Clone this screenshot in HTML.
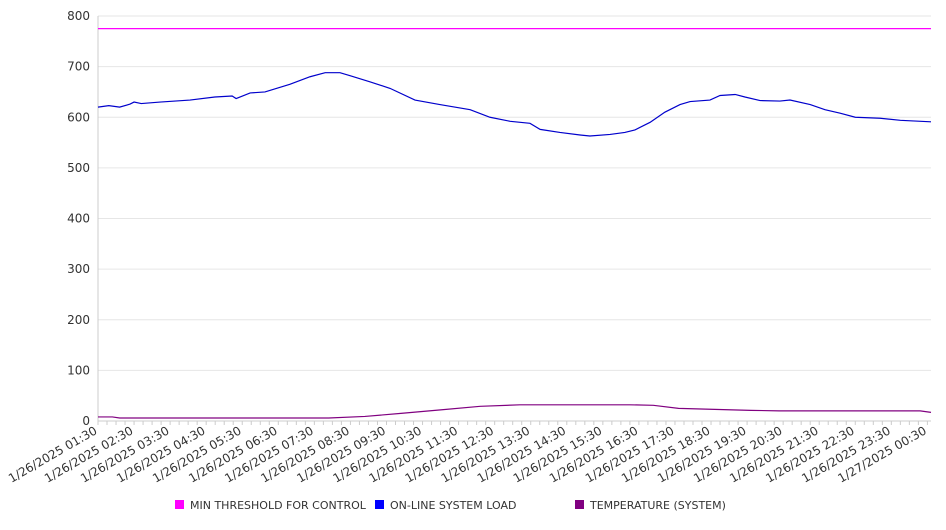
<!DOCTYPE html>
<html><head><meta charset="utf-8"><style>
body{margin:0;background:#fff;font-family:"DejaVu Sans","Liberation Sans",sans-serif;}
svg text{font-family:"DejaVu Sans","Liberation Sans",sans-serif;}
</style></head><body>
<svg id="chart" width="946" height="526" xmlns="http://www.w3.org/2000/svg"></svg>
<script>
const yTicks=[0,100,200,300,400,500,600,700,800];
const xLabels=["1/26/2025 01:30","1/26/2025 02:30","1/26/2025 03:30","1/26/2025 04:30","1/26/2025 05:30","1/26/2025 06:30","1/26/2025 07:30","1/26/2025 08:30","1/26/2025 09:30","1/26/2025 10:30","1/26/2025 11:30","1/26/2025 12:30","1/26/2025 13:30","1/26/2025 14:30","1/26/2025 15:30","1/26/2025 16:30","1/26/2025 17:30","1/26/2025 18:30","1/26/2025 19:30","1/26/2025 20:30","1/26/2025 21:30","1/26/2025 22:30","1/26/2025 23:30","1/27/2025 00:30"];
const thresholdHours=[0,23.1];
const thresholdValues=[775,775];
const loadHours=[0,0.3,0.6,0.89,1.0,1.2,1.72,2.55,3.24,3.72,3.83,4.22,4.63,5.32,5.88,6.30,6.71,6.99,7.54,8.10,8.79,9.48,10.32,10.87,11.43,11.98,12.26,12.81,13.37,13.64,14.20,14.61,14.89,15.31,15.72,16.14,16.42,16.97,17.25,17.67,17.94,18.36,18.91,19.19,19.75,20.16,20.58,21.00,21.69,22.25,23.1];
const loadValues=[620,623,620,626,630,627,630,634,640,642,637,648,650,665,680,688,688,682,670,657,634,625,615,600,592,588,576,570,565,563,566,570,575,590,610,625,631,634,643,645,640,633,632,634,625,615,608,600,598,594,591];
const tempHours=[0,0.4,0.6,6.4,7.4,8.4,9.5,10.6,11.7,14.75,15.4,16.1,18.1,18.9,22.8,23.1];
const tempValues=[8,8,6,6,9,15,22,29,32,32,31,25,21,20,20,17];

const svg=document.getElementById('chart');
const NS='http://www.w3.org/2000/svg';
const X0=98,X1=931,Y0=421,Y1=16,XMAX=23.1,YMAX=800;
const xs=h=>X0+(X1-X0)*h/XMAX;
const ys=v=>Y0-(Y0-Y1)*v/YMAX;
function mk(t,a){const e=document.createElementNS(NS,t);for(const k in a)e.setAttribute(k,a[k]);svg.appendChild(e);return e;}

yTicks.forEach(v=>{
  const g=mk('line',{x1:X0,x2:X1,y1:ys(v),y2:ys(v),stroke:'#e6e6e6','stroke-width':1});
  
  
  const t=mk('text',{x:X0-8,y:ys(v)+4,'text-anchor':'end','font-size':12,fill:'#333'});
  t.textContent=v;
  
  
});
const ax=mk('line',{x1:X0,x2:X0,y1:Y1,y2:Y0,stroke:'#ccc'});


const bx=mk('line',{x1:X0,x2:X1,y1:Y0,y2:Y0,stroke:'#ccc'});


for(let i=0;i<=Math.floor(XMAX*4);i++){
  const tk=mk('line',{x1:xs(i/4),x2:xs(i/4),y1:Y0,y2:Y0+4,stroke:'#ccc'});
  
  
}
xLabels.forEach((l,i)=>{
  const x=xs(i),y=Y0+12;
  const t=mk('text',{x:x,y:y,'text-anchor':'end','font-size':12,fill:'#333',transform:`rotate(-30 ${x} ${y})`});
  t.textContent=l;
  
  
});
function series(hs,vs,color,name){
  const p=mk('polyline',{points:hs.map((h,i)=>xs(h)+','+ys(vs[i])).join(' '),fill:'none',stroke:color,'stroke-width':1.2});
  
  
}
series(thresholdHours,thresholdValues,'#ff00ff','min-threshold-line');
series(loadHours,loadValues,'#0000cc','online-system-load-line');
series(tempHours,tempValues,'#800080','temperature-line');

const leg=[['#ff00ff','MIN THRESHOLD FOR CONTROL',175],['#0000ff','ON-LINE SYSTEM LOAD',375],['#800080','TEMPERATURE (SYSTEM)',575]];
leg.forEach(([c,l,x])=>{
  const r=mk('rect',{x:x,y:500,width:9,height:9,fill:c});
  
  
  const t=mk('text',{x:x+15,y:509,'font-size':11,fill:'#333'});
  t.textContent=l;
  
  
});
</script>
</body></html>
